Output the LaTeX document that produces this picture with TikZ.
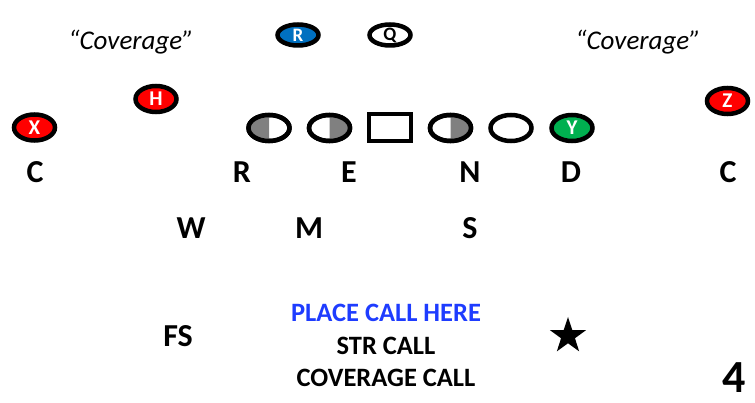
\documentclass[tikz,border=0pt]{standalone}
\usepackage{fontspec}
\setmainfont{Carlito}
\usetikzlibrary{shapes.geometric}
\definecolor{pred}{RGB}{255,0,0}
\definecolor{pblue}{RGB}{0,112,192}
\definecolor{pgreen}{RGB}{0,176,80}
\definecolor{callblue}{RGB}{30,60,255}
\definecolor{halfgray}{RGB}{128,128,128}
\tikzset{
  player/.style={ellipse, draw=black, line width=4.5pt, minimum width=41pt, minimum height=26pt, inner sep=0pt, font=\fontsize{21}{21}\selectfont\bfseries, text=white},
  lineman/.style={player, fill=white},
  ctrbox/.style={rectangle, draw=black, line width=4.5pt, minimum width=42pt, minimum height=27pt, fill=white},
  poslbl/.style={font=\fontsize{32}{32}\selectfont\bfseries},
  covlbl/.style={font=\fontsize{27}{27}\selectfont\itshape},
  calltext/.style={font=\fontsize{26.5}{26.5}\selectfont\bfseries},
  halffill/.style={fill=halfgray},
}
\begin{document}
\begin{tikzpicture}[x=1pt,y=-1pt]
\useasboundingbox (0,0) rectangle (755,403);
% defense top
\node[player, fill=pred] (x) at (34.5,127.5) {X};
\node[player, fill=pred] (h) at (156,99) {H};
\node[player, fill=pred] (z) at (727.5,101) {Z};
\node[player, fill=pblue, minimum height=21pt, font=\fontsize{19}{19}\selectfont\bfseries] (r) at (298,35) {R};
\node[player, fill=white, text=black, minimum height=21pt, font=\fontsize{19}{19}\selectfont\bfseries] (q) at (390,35) {Q};
% line
\node[lineman] (lt) at (269,128) {};
\node[lineman] (lg) at (329.5,128) {};
\node[ctrbox] (c) at (390,127.5) {};
\node[lineman] (rg) at (450.5,128) {};
\node[lineman] (rt) at (511,128) {};
\node[player, fill=pgreen] (y) at (572,128) {Y};
% half shading
\begin{scope}
\clip ([shift={(-30pt,-20pt)}]lt.center) rectangle ([yshift=20pt]lt.center);
\fill[halffill] (lt.center) ellipse [x radius=19pt, y radius=12pt];
\end{scope}
\begin{scope}
\clip ([yshift=-20pt]lg.center) rectangle ([shift={(30pt,20pt)}]lg.center);
\fill[halffill] (lg.center) ellipse [x radius=19pt, y radius=12pt];
\end{scope}
\begin{scope}
\clip ([yshift=-20pt]rg.center) rectangle ([shift={(30pt,20pt)}]rg.center);
\fill[halffill] (rg.center) ellipse [x radius=19pt, y radius=12pt];
\end{scope}
\draw[line width=4.5pt] (lt.center) ellipse [x radius=20.5pt, y radius=13pt];
\draw[line width=4.5pt] (lg.center) ellipse [x radius=20.5pt, y radius=13pt];
\draw[line width=4.5pt] (rg.center) ellipse [x radius=20.5pt, y radius=13pt];
% coverage
\node[covlbl] (covl) at (131,42) {“Coverage”};
\node[covlbl] (covr) at (638,42) {“Coverage”};
% positions
\node[poslbl] (c1) at (35,172) {C};
\node[poslbl] (pr) at (242,172) {R};
\node[poslbl] (pe) at (349,172) {E};
\node[poslbl] (pn) at (470,172) {N};
\node[poslbl] (pd) at (571,172) {D};
\node[poslbl] (c2) at (728,172) {C};
\node[poslbl] (pw) at (191,228) {W};
\node[poslbl] (pm) at (309,228) {M};
\node[poslbl] (ps) at (470,228) {S};
\node[poslbl] (fs) at (178,336) {FS};
% calls
\node[calltext, text=callblue] (place) at (386,313) {PLACE CALL HERE};
\node[calltext] (str) at (386,346) {STR CALL};
\node[calltext] (covcall) at (386,378) {COVERAGE CALL};
\node[star, star points=5, star point ratio=2.6, fill=black, minimum size=38pt, inner sep=0pt] (st) at (568,336) {};
\node[font=\fontsize{46}{46}\selectfont\bfseries, inner sep=0pt] (num) at (734,378) {4};
\end{tikzpicture}
\end{document}
